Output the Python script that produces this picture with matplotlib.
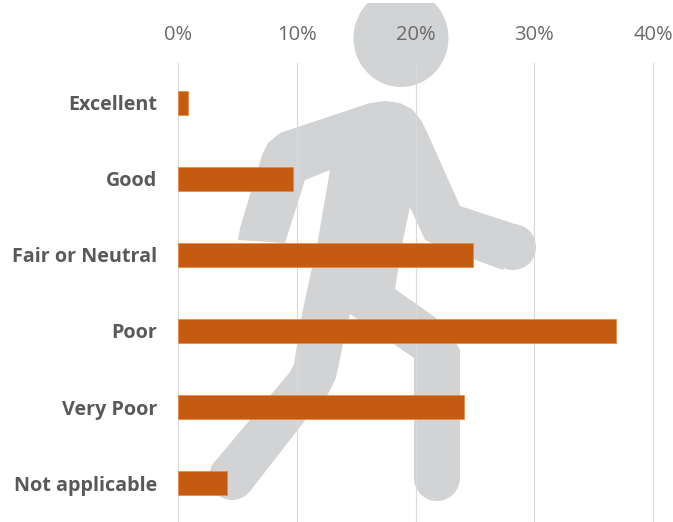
import matplotlib
matplotlib.use("Agg")
import matplotlib.pyplot as plt
from matplotlib.patches import Circle, Ellipse, Polygon

categories = ["Excellent", "Good", "Fair or Neutral", "Poor", "Very Poor", "Not applicable"]
shares = [0.85, 9.7, 24.8, 36.9, 24.1, 4.1]
x_ticks = [0, 10, 20, 30, 40]
x_tick_labels = ["0%", "10%", "20%", "30%", "40%"]

W, H = 673, 522
fig = plt.figure(figsize=(W / 100, H / 100), dpi=100, facecolor="white")
plt.rcParams["font.family"] = ["Open Sans", "DejaVu Sans"]

# Walking-person pictogram behind the bars, laid out in a canvas-sized layer
GREY = "#d2d3d4"
bg = fig.add_axes([0, 0, 1, 1], zorder=0)
bg.set_xlim(0, W)
bg.set_ylim(H, 0)
bg.axis("off")
bg.add_patch(Ellipse((401, 38), 95, 98, fc=GREY, ec="none"))
bg.add_patch(Polygon([(0, 0), (W, 0), (W, 3), (0, 3)], fc="white", ec="none", zorder=5))
body_outline = [
    (385, 101), (400, 103), (412, 109), (421, 120), (427, 132), (460, 206), (521, 226),
    (503, 270), (440, 247), (425, 240), (410, 207), (403, 240), (395, 289), (436, 318),
    (452, 335), (460, 350), (460, 478), (414, 478), (414, 358), (350, 314), (343, 344),
    (336, 378), (328, 394), (307, 418), (251, 490), (212, 465), (290, 372), (294, 364),
    (302, 314), (318, 240), (330, 170), (305, 180), (285, 243), (238, 240), (240, 228),
    (262, 155), (268, 143), (280, 133), (370, 103),
]
bg.add_patch(Polygon(body_outline, closed=True, fc=GREY, ec="none"))
for centre in [(513, 247), (437, 478), (232, 477)]:
    bg.add_patch(Circle(centre, 23, fc=GREY, ec="none"))

# Horizontal bar chart on a transparent layer above the pictogram
ax = fig.add_axes([178 / W, 0, (653 - 178) / W, (H - 63) / H], zorder=1)
ax.patch.set_visible(False)
y = list(range(len(categories)))
ax.barh(y, shares, height=24.5 / 76, color="#c55a11", edgecolor="#e8873a",
        linewidth=0.5, zorder=3)
ax.set_xlim(0, 40)
ax.set_ylim(5.513, -0.526)
ax.xaxis.tick_top()
ax.set_xticks(x_ticks, x_tick_labels)
ax.set_yticks(y, categories)
ax.grid(axis="x", color="#d9d9d9", lw=0.8, zorder=1, clip_on=False)
ax.set_axisbelow(True)
for side in ("top", "right", "bottom", "left"):
    ax.spines[side].set_visible(False)
ax.tick_params(axis="x", length=0, pad=13, labelsize=14.5, labelcolor="#6a6a6a")
ax.tick_params(axis="y", length=0, pad=15, labelsize=14.2, labelcolor="#595959")
for lab in ax.get_yticklabels():
    lab.set_fontweight("bold")

fig.savefig("out.png", dpi=100)
